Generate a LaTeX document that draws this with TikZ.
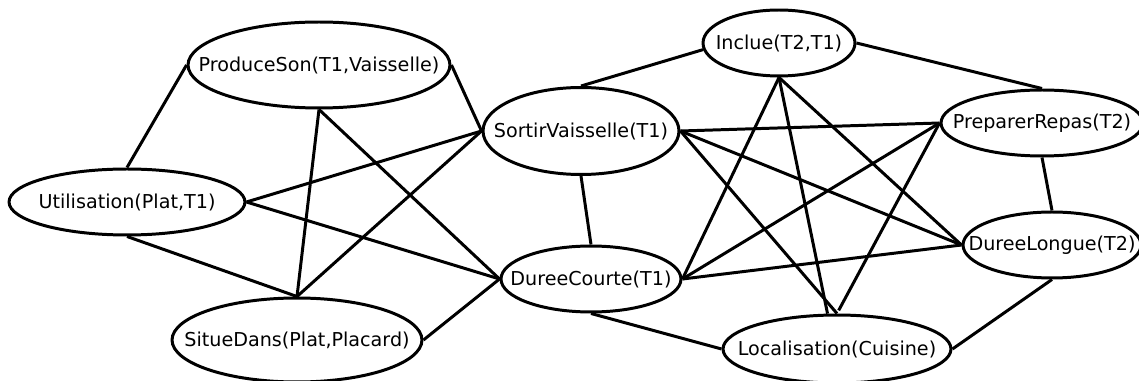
\documentclass[tikz,border=0pt]{standalone}
\usepackage{fontspec}
\setmainfont{DejaVu Sans}
\usetikzlibrary{shapes.geometric}
\newcommand{\etiq}[1]{\makebox[0pt]{#1}}
\tikzset{etat/.style={ellipse,draw,line width=1.7pt,inner sep=0pt}}
\begin{document}
\begin{tikzpicture}[x=0.02cm,y=-0.02cm,line width=1.7pt,font=\fontsize{10.9}{13}\selectfont]
 \useasboundingbox (0,0) rectangle (1139,381);
 \node[etat,minimum width=5.24cm,minimum height=1.72cm] (ps) at (319,65) {\etiq{ProduceSon(T1,Vaisselle)}};
 \node[etat,minimum width=4.72cm,minimum height=1.32cm] (ut) at (127,202) {\etiq{Utilisation(Plat,T1)}};
 \node[etat,minimum width=5.00cm,minimum height=1.68cm] (sd) at (297,340) {\etiq{SitueDans(Plat,Placard)}};
 \node[etat,minimum width=3.92cm,minimum height=1.74cm] (sv) at (581,131) {\etiq{SortirVaisselle(T1)}};
 \node[etat,minimum width=3.60cm,minimum height=1.32cm] (dc) at (591,279) {\etiq{DureeCourte(T1)}};
 \node[etat,minimum width=3.04cm,minimum height=1.32cm] (inc) at (779,43) {\etiq{Inclue(T2,T1)}};
 \node[etat,minimum width=4.56cm,minimum height=1.36cm] (loc) at (837,349) {\etiq{Localisation(Cuisine)}};
 \node[etat,minimum width=4.04cm,minimum height=1.32cm] (pr) at (1042,123) {\etiq{PreparerRepas(T2)}};
 \node[etat,minimum width=3.56cm,minimum height=1.32cm] (dl) at (1052,245) {\etiq{DureeLongue(T2)}};
 \draw (ps.west)--(ut.north);
 \draw (ps.east)--(sv.west);
 \draw (ps.south)--(sd.north);
 \draw (ps.south)--(dc.west);
 \draw (ut.east)--(sv.west);
 \draw (ut.east)--(dc.west);
 \draw (ut.south)--(sd.north);
 \draw (sd.north)--(sv.west);
 \draw (sd.east)--(dc.west);
 \draw (sv.north)--(inc.185);
 \draw (sv.south)--(dc.north);
 \draw (sv.east)--(pr.west);
 \draw (sv.east)--(dl.west);
 \draw (sv.east)--(loc.north);
 \draw (inc.east)--(pr.north);
 \draw (inc.south)--(dc.east);
 \draw (inc.south)--(loc.105);
 \draw (inc.south)--(dl.west);
 \draw (pr.west)--(dc.east);
 \draw[shorten >=2pt] (pr.west)--(loc.north);
 \draw (pr.south)--(dl.north);
 \draw (dc.east)--(dl.west);
 \draw (dc.south)--(loc.west);
 \draw (dl.south)--(loc.east);
\end{tikzpicture}
\end{document}
